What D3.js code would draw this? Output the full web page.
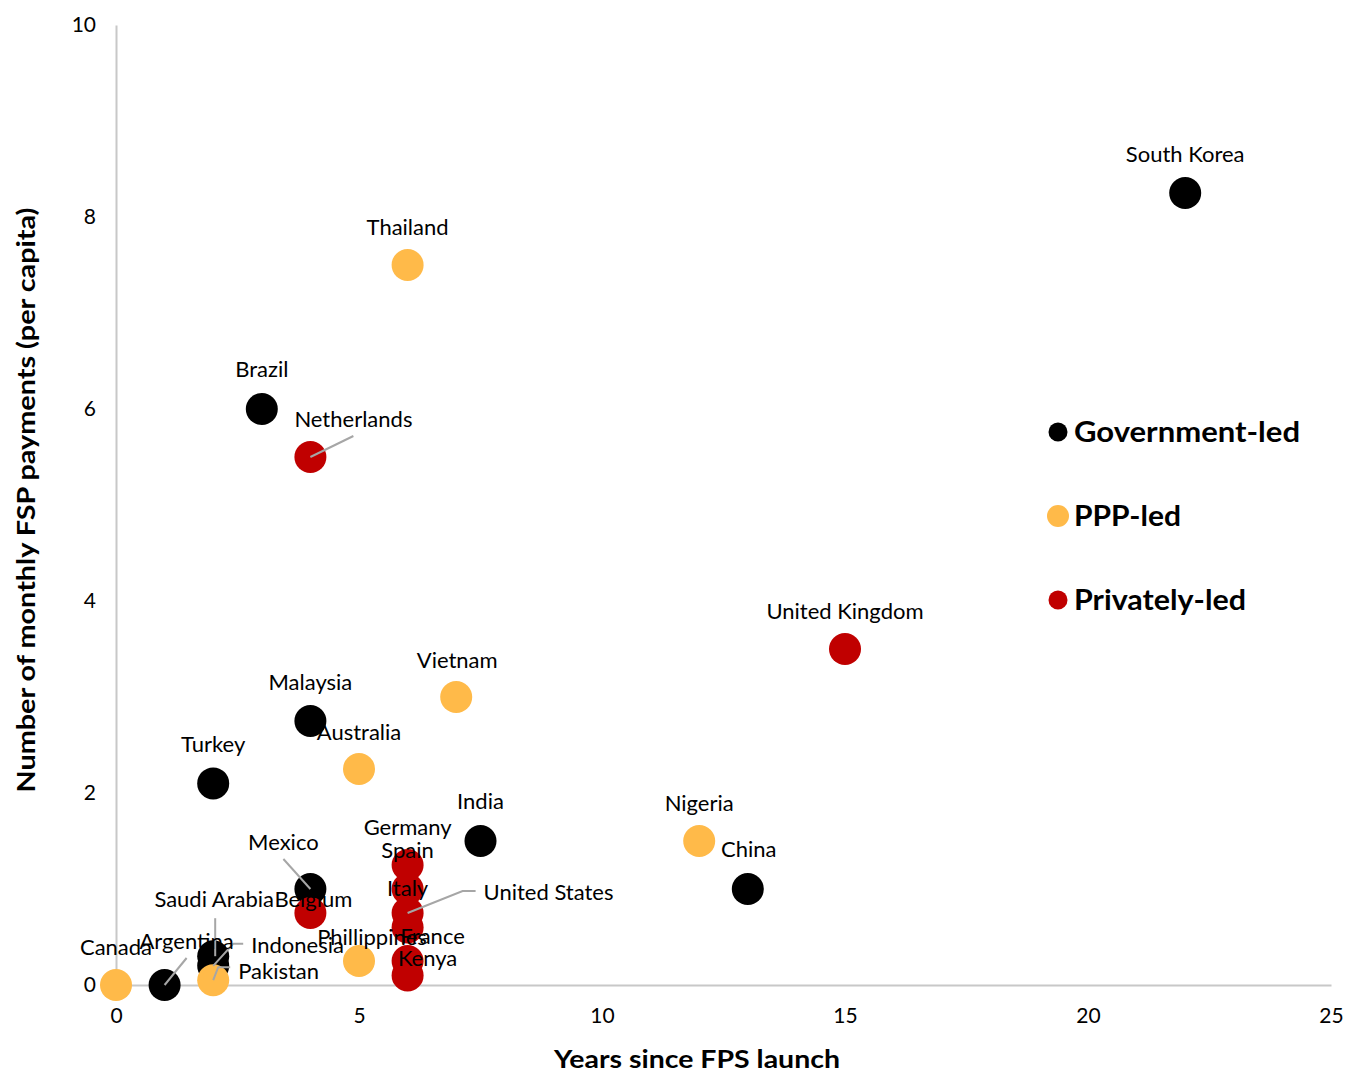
<!DOCTYPE html>
<html>
<head>
<meta charset="utf-8">
<script src="https://cdn.jsdelivr.net/npm/d3@7"></script>
<style>
  body { margin: 0; background: #fff; }
  svg text { font-family: Lato, "Open Sans", sans-serif; fill: #000; }
</style>
</head>
<body>
<div id="chart"></div>
<script>
// FSP payments per capita vs years since launch, by governance model

const countries = ['South Korea', 'Thailand', 'Brazil', 'Netherlands', 'United Kingdom', 'Vietnam',
  'Malaysia', 'Australia', 'Turkey', 'India', 'Nigeria', 'China', 'Mexico', 'Belgium',
  'Germany', 'Spain', 'United States', 'Italy', 'France', 'Kenya', 'Phillippines',
  'Canada', 'Argentina', 'Saudi Arabia', 'Indonesia', 'Pakistan'];
const years = [22, 6, 3, 4, 15, 7, 4, 5, 2, 7.5, 12, 13, 4, 4, 6, 6, 6, 6, 6, 6, 5, 0, 1, 2, 2, 2];
const payments = [8.25, 7.5, 6, 5.5, 3.5, 3, 2.75, 2.25, 2.1, 1.5, 1.5, 1, 1, 0.75,
  1.25, 1, 0.75, 0.6, 0.25, 0.1, 0.25, 0, 0, 0.3, 0.2, 0.05];
const model = ['gov', 'ppp', 'gov', 'priv', 'priv', 'ppp', 'gov', 'ppp', 'gov', 'gov', 'ppp', 'gov', 'gov', 'priv',
  'priv', 'priv', 'priv', 'priv', 'priv', 'priv', 'ppp', 'ppp', 'gov', 'gov', 'gov', 'ppp'];

const groups = ['gov', 'ppp', 'priv'];
const groupLabels = ['Government-led', 'PPP-led', 'Privately-led'];
const groupColors = ['#000000', '#FFBA49', '#C00000'];

const xTicks = [0, 5, 10, 15, 20, 25];
const yTicks = [0, 2, 4, 6, 8, 10];

// label placement (px offset from point), anchor, optional leader line
const labelPos = {
  'South Korea': { dx: 0, dy: -39 },
  'Thailand': { dx: 0, dy: -38 },
  'Brazil': { dx: 0, dy: -40 },
  'Netherlands': { dx: 43, dy: -38, lead: [[0, 0], [43, -21]] },
  'United Kingdom': { dx: 0, dy: -38 },
  'Vietnam': { dx: 1, dy: -37 },
  'Malaysia': { dx: 0, dy: -39 },
  'Australia': { dx: 0, dy: -37 },
  'Turkey': { dx: 0, dy: -39 },
  'India': { dx: 0, dy: -40 },
  'Nigeria': { dx: 0, dy: -38 },
  'China': { dx: 1, dy: -40 },
  'Mexico': { dx: -27, dy: -47, lead: [[0, 0], [-27, -30]] },
  'Belgium': { dx: 3, dy: -14 },
  'Germany': { dx: 0, dy: -38 },
  'Spain': { dx: 0, dy: -39 },
  'United States': { dx: 76, dy: -21, anchor: 'start', lead: [[0, 0], [55, -22], [68, -22]] },
  'Italy': { dx: 0, dy: -39 },
  'France': { dx: 25, dy: -25 },
  'Kenya': { dx: 20, dy: -17 },
  'Phillippines': { dx: 13, dy: -24 },
  'Canada': { dx: 0, dy: -38 },
  'Argentina': { dx: 22, dy: -44, lead: [[0, 0], [22, -27]] },
  'Saudi Arabia': { dx: 1, dy: -57, lead: [[2, 0], [2, -38]] },
  'Indonesia': { dx: 38, dy: -21, anchor: 'start', lead: [[0, 0], [20, -22], [30, -22]] },
  'Pakistan': { dx: 25, dy: -9, anchor: 'start', lead: [[0, 0], [5, -13], [17, -13]] }
};

const W = 1346, H = 1072;
const m = { top: 25, right: 15, bottom: 87, left: 116 };

const svg = d3.select('#chart').append('svg')
  .attr('width', W).attr('height', H);

const x = d3.scaleLinear().domain([0, 25]).range([m.left, W - m.right]);
const y = d3.scaleLinear().domain([0, 10]).range([H - m.bottom, m.top]);

const axisColor = '#c8c8c8';

// Axes
const xAxis = svg.append('g')
  .attr('transform', `translate(0,${y(0)})`)
  .call(d3.axisBottom(x).tickValues(xTicks).tickSize(0).tickPadding(23));
xAxis.select('.domain').attr('stroke', axisColor).attr('stroke-width', 2);
xAxis.selectAll('text').attr('font-size', 21).style('fill', '#000');

const yAxis = svg.append('g')
  .attr('transform', `translate(${x(0)},0)`)
  .call(d3.axisLeft(y).tickValues(yTicks).tickSize(0).tickPadding(20));
yAxis.select('.domain').attr('stroke', axisColor).attr('stroke-width', 2);
yAxis.selectAll('text').attr('font-size', 21).style('fill', '#000');

// Axis titles
svg.append('text')
  .attr('x', 697).attr('y', 1059)
  .attr('text-anchor', 'middle').attr('dy', '0.35em')
  .attr('font-size', 25).attr('font-weight', 'bold')
  .attr('textLength', 286).attr('lengthAdjust', 'spacingAndGlyphs')
  .text('Years since FPS launch');

svg.append('text')
  .attr('transform', `translate(27,500) rotate(-90)`)
  .attr('text-anchor', 'middle').attr('dy', '0.35em')
  .attr('font-size', 24).attr('font-weight', 'bold')
  .attr('textLength', 585).attr('lengthAdjust', 'spacingAndGlyphs')
  .text('Number of monthly FSP payments (per capita)');

// Points, series by series
const pts = countries.map((c, i) => ({ c, x: years[i], y: payments[i], g: model[i] }));

groups.forEach((gk, gi) => {
  svg.append('g').selectAll('circle')
    .data(pts.filter(d => d.g === gk))
    .join('circle')
    .attr('cx', d => x(d.x))
    .attr('cy', d => y(d.y))
    .attr('r', 16)
    .attr('fill', groupColors[gi]);
});

// Leader lines and labels
const labG = svg.append('g');
pts.forEach(d => {
  const p = labelPos[d.c];
  const px = x(d.x), py = y(d.y);
  if (p.lead) {
    labG.append('path')
      .attr('d', d3.line()(p.lead.map(([a, b]) => [px + a, py + b])))
      .attr('fill', 'none')
      .attr('stroke', '#a6a6a6')
      .attr('stroke-width', 2);
  }
});
pts.forEach(d => {
  const p = labelPos[d.c];
  labG.append('text')
    .attr('x', x(d.x) + p.dx)
    .attr('y', y(d.y) + p.dy)
    .attr('dy', '0.35em')
    .attr('text-anchor', p.anchor || 'middle')
    .attr('font-size', 22)
    .text(d.c);
});

// Legend
const legWidths = [226, 107, 172];
const leg = svg.append('g');
groupLabels.forEach((lab, i) => {
  const ly = 432 + i * 84;
  leg.append('circle')
    .attr('cx', 1058).attr('cy', ly)
    .attr('r', i === 1 ? 11 : 9.5)
    .attr('fill', groupColors[i]);
  leg.append('text')
    .attr('x', 1074).attr('y', ly)
    .attr('dy', '0.35em')
    .attr('font-size', 28).attr('font-weight', 'bold')
    .attr('textLength', legWidths[i]).attr('lengthAdjust', 'spacingAndGlyphs')
    .text(lab);
});
</script>
</body>
</html>
